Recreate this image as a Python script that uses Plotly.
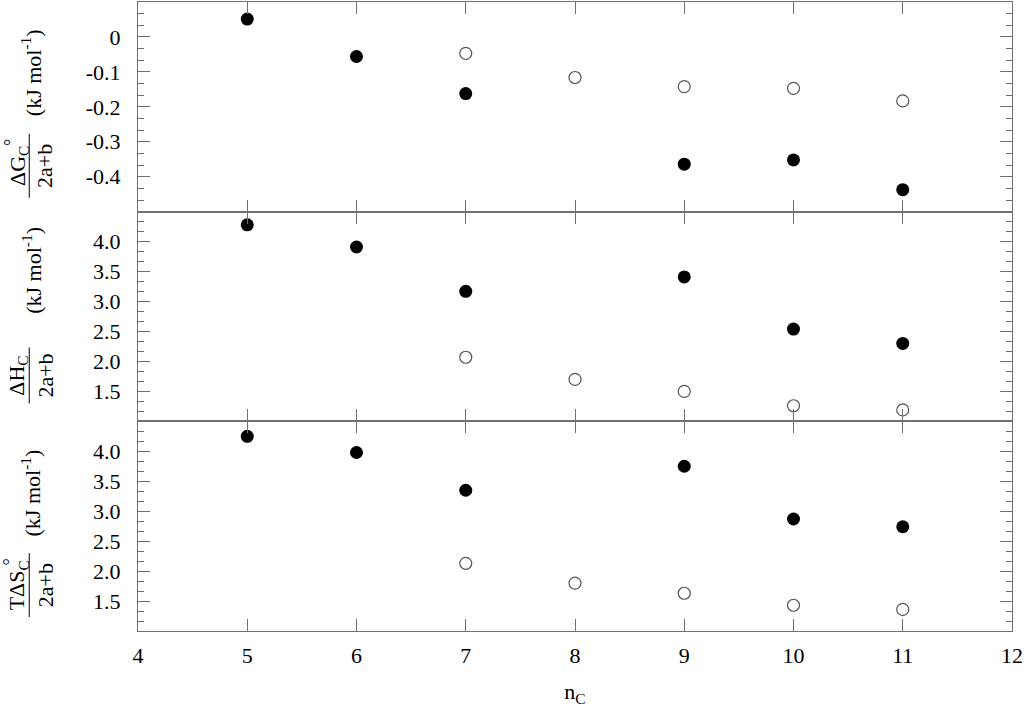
import plotly.graph_objects as go
from plotly.subplots import make_subplots

# ---- data ----
n_filled = [5, 6, 7, 9, 10, 11]
n_open = [7, 8, 9, 10, 11]
dG_filled = [0.051, -0.056, -0.162, -0.364, -0.352, -0.437]
dG_open = [-0.047, -0.116, -0.142, -0.147, -0.183]
dH_filled = [4.28, 3.91, 3.17, 3.41, 2.54, 2.30]
dH_open = [2.07, 1.70, 1.50, 1.26, 1.19]
TdS_filled = [4.25, 3.98, 3.35, 3.75, 2.87, 2.74]
TdS_open = [2.13, 1.80, 1.63, 1.43, 1.36]

x_ticks = [4, 5, 6, 7, 8, 9, 10, 11, 12]
dG_ticks = [0, -0.1, -0.2, -0.3, -0.4]
dG_ticktext = ["0", "-0.1", "-0.2", "-0.3", "-0.4"]
dHS_ticks = [4.0, 3.5, 3.0, 2.5, 2.0, 1.5]
dHS_ticktext = ["4.0", "3.5", "3.0", "2.5", "2.0", "1.5"]

FONT = "Liberation Serif, Times New Roman, Times, DejaVu Serif, serif"
GRAY = "#707070"

fig = make_subplots(rows=3, cols=1, shared_xaxes=True, vertical_spacing=0)

panels = [(dG_filled, dG_open), (dH_filled, dH_open), (TdS_filled, TdS_open)]
for i, (yf, yo) in enumerate(panels, start=1):
    fig.add_trace(go.Scatter(x=n_open, y=yo, mode="markers",
                             marker=dict(symbol="circle", size=12, color="white",
                                         line=dict(color="#555555", width=1.2)),
                             showlegend=False, hoverinfo="skip"), row=i, col=1)
    fig.add_trace(go.Scatter(x=n_filled, y=yf, mode="markers",
                             marker=dict(symbol="circle", size=13, color="black",
                                         line=dict(width=0)),
                             showlegend=False, hoverinfo="skip"), row=i, col=1)

W, H = 1024, 708
ML, MR, MT, MB = 138, 10, 1, 77
PW = W - ML - MR
PH = H - MT - MB

for i in range(1, 4):
    fig.update_xaxes(row=i, col=1, range=[4, 12], tickvals=x_ticks,
                     ticks="inside", ticklen=12, tickwidth=1, tickcolor=GRAY,
                     showline=True, linecolor=GRAY, linewidth=1, mirror="ticks",
                     showgrid=False, zeroline=False)
fig.update_xaxes(row=3, col=1, showticklabels=True, ticklabelstandoff=5,
                 ticklabeloverflow="allow",
                 tickfont=dict(family=FONT, size=22, color="black"),
                 title=dict(text="n<sub>C</sub>", font=dict(family=FONT, size=22, color="black"),
                            standoff=16))

common_y = dict(ticks="inside", ticklen=12, tickwidth=1, tickcolor=GRAY,
                showline=True, linecolor=GRAY, linewidth=1, mirror="ticks",
                showgrid=False, zeroline=False, ticklabelstandoff=12,
                tickfont=dict(family=FONT, size=22, color="black"))
fig.update_yaxes(row=1, col=1, range=[-0.5, 0.1], tickvals=dG_ticks, ticktext=dG_ticktext,
                 minor=dict(ticks="inside", ticklen=6, tickcolor=GRAY, tickwidth=1,
                            dtick=0.1 / 3, tick0=0), **common_y)
for r in (2, 3):
    fig.update_yaxes(row=r, col=1, range=[1.0, 4.5], tickvals=dHS_ticks, ticktext=dHS_ticktext,
                     minor=dict(ticks="inside", ticklen=6, tickcolor=GRAY, tickwidth=1,
                                dtick=0.5 / 3, tick0=1.0), **common_y)


def px(xpix):
    return (xpix - ML) / PW


def py(ypix):
    return (H - MB - ypix) / PH


annots = []
shapes = []
tfont = dict(family=FONT, size=22, color="black")

# (units center y, fraction center y, line y0, line y1, numerator, degree?)
titles = [
    (72, 165, 133, 197, "ΔG<sub>C</sub>", True),
    (270, 375, 347, 403, "ΔH<sub>C</sub>", False),
    (493, 585, 553, 617, "TΔS<sub>C</sub>", True),
]
for uy, fy, l0, l1, num, deg in titles:
    annots.append(dict(text="(kJ mol<sup>-1</sup>)", x=px(31), y=py(uy), xref="paper", yref="paper",
                       textangle=-90, showarrow=False, xanchor="center", yanchor="middle", font=tfont))
    annots.append(dict(text=num, x=px(18), y=py(fy), xref="paper", yref="paper",
                       textangle=-90, showarrow=False, xanchor="center", yanchor="middle", font=tfont))
    annots.append(dict(text="2a+b", x=px(45), y=py(fy), xref="paper", yref="paper",
                       textangle=-90, showarrow=False, xanchor="center", yanchor="middle", font=tfont))
    if deg:
        annots.append(dict(text="°", x=px(10), y=py(l0 + 9), xref="paper", yref="paper",
                           textangle=-90, showarrow=False, xanchor="center", yanchor="middle",
                           font=dict(family=FONT, size=18, color="black")))
    shapes.append(dict(type="line", xref="paper", yref="paper", x0=px(29), x1=px(29),
                       y0=py(l0), y1=py(l1), line=dict(color="black", width=1)))

fig.update_layout(width=W, height=H, margin=dict(l=ML, r=MR, t=MT, b=MB),
                  plot_bgcolor="white", paper_bgcolor="white",
                  font=dict(family=FONT, size=22, color="black"),
                  annotations=annots, shapes=shapes, showlegend=False)

fig.write_html("out.html", config={"displayModeBar": False},
               post_script="document.body.style.margin='0';document.body.style.overflow='hidden';")
